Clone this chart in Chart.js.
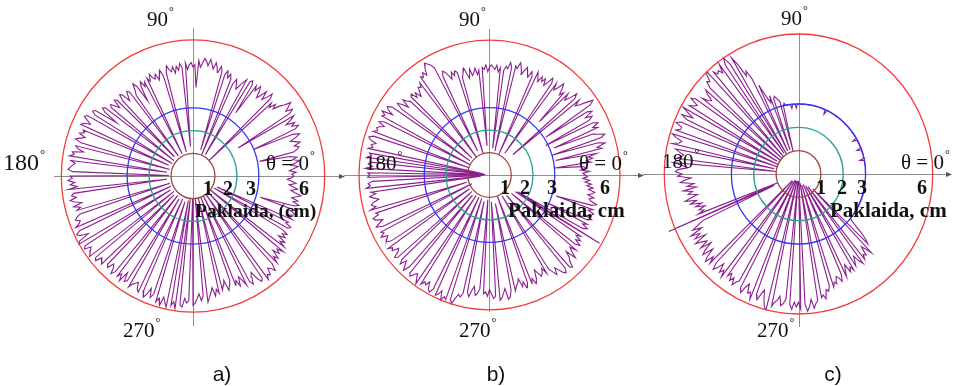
<!DOCTYPE html>
<html>
<head>
<meta charset="utf-8">
<script src="https://cdn.jsdelivr.net/npm/chart.js@4.4.1/dist/chart.umd.min.js"></script>
<style>
  html, body { margin: 0; padding: 0; background: #fff; }
  #wrap { position: relative; width: 955px; height: 386px; overflow: hidden; }
  #wrap canvas { position: absolute; left: 0; top: 0; }
</style>
</head>
<body>
<div id="wrap">
  <canvas id="plotA" width="955" height="386"></canvas>
  <canvas id="plotB" width="955" height="386"></canvas>
  <canvas id="plotC" width="955" height="386"></canvas>
</div>
<script>
// error radius (cm) every degree, counter-clockwise from theta = 0
const angleStep = 1;

const errA = [
  4.6, 4.5, 4.7, 4.4, 4.6, 4.8, 4.5, 4.7, 4.9, 4.6,
  4.8, 4.5, 3.1, 4.7, 4.9, 5.0, 4.8, 5.1, 4.9, 4.7,
  5.0, 5.2, 4.9, 3.0, 5.1, 5.3, 5.0, 5.2, 4.8, 5.1,
  5.3, 2.4, 5.2, 5.4, 5.1, 5.3, 5.5, 5.2, 5.0, 4.7,
  4.9, 4.6, 4.8, 1.0, 4.9, 5.1, 4.8, 4.6, 5.0, 4.7,
  4.5, 4.8, 5.0, 4.7, 4.9, 3.4, 4.8, 5.0, 4.9, 1.1,
  4.9, 4.7, 4.5, 4.3, 4.5, 4.7, 4.4, 1.0, 4.6, 4.8,
  4.6, 4.9, 4.7, 1.2, 4.8, 5.0, 4.7, 4.9, 5.1, 4.8,
  5.0, 5.2, 4.9, 5.1, 5.2, 5.0, 4.8, 5.1, 3.9, 4.9,
  4.8, 5.0, 4.9, 4.7, 5.0, 1.3, 4.8, 5.0, 4.7, 4.9,
  4.6, 4.9, 4.7, 4.8, 5.0, 4.7, 1.1, 4.6, 4.9, 4.7,
  4.5, 4.8, 4.6, 4.7, 4.9, 4.6, 4.8, 1.1, 4.7, 4.5,
  4.8, 4.6, 3.9, 4.7, 4.9, 4.6, 4.4, 1.1, 4.7, 4.8,
  4.6, 4.4, 4.8, 4.9, 4.6, 1.2, 4.8, 4.9, 4.5, 4.7,
  4.9, 4.8, 1.1, 5.0, 5.1, 4.9, 4.2, 5.3, 5.4, 5.2,
  1.1, 5.5, 5.6, 5.4, 5.2, 5.5, 5.6, 1.2, 5.4, 5.3,
  5.5, 5.2, 5.4, 5.6, 5.3, 1.1, 5.5, 5.4, 5.1, 5.6,
  5.5, 5.7, 1.2, 5.6, 5.4, 5.5, 5.6, 5.7, 5.5, 1.1,
  5.6, 5.5, 5.7, 5.4, 5.6, 5.3, 5.7, 1.2, 5.5, 5.6,
  5.4, 5.7, 5.5, 5.2, 5.6, 5.3, 5.5, 1.1, 5.4, 5.6,
  5.7, 5.5, 5.6, 5.8, 1.1, 5.7, 5.9, 5.8, 5.4, 5.9,
  6.0, 1.2, 5.8, 5.9, 5.6, 5.7, 5.8, 5.9, 1.1, 5.7,
  5.8, 5.5, 5.6, 5.7, 1.2, 5.5, 5.6, 5.3, 5.4, 5.7,
  5.5, 1.1, 5.6, 5.4, 5.7, 5.2, 5.6, 5.5, 1.2, 5.7,
  5.5, 5.4, 5.3, 5.6, 5.7, 1.1, 5.5, 5.8, 5.6, 5.3,
  5.7, 5.5, 1.2, 5.8, 5.6, 5.9, 5.5, 5.7, 5.9, 1.1,
  5.8, 5.6, 5.9, 1.0, 5.7, 5.8, 5.4, 5.6, 5.5, 1.0,
  5.7, 5.6, 5.4, 5.2, 5.5, 5.3, 1.0, 5.6, 5.4, 5.2,
  5.0, 5.4, 5.1, 5.3, 1.0, 5.2, 5.0, 4.8, 5.3, 5.1,
  4.9, 1.0, 5.2, 5.0, 5.3, 4.9, 5.1, 5.4, 1.0, 5.3,
  5.5, 5.2, 5.0, 5.4, 5.6, 5.5, 1.0, 5.7, 5.5, 5.6,
  5.3, 5.4, 5.6, 5.3, 1.0, 5.4, 5.1, 5.3, 4.9, 5.2,
  5.0, 5.3, 1.0, 5.2, 4.9, 5.1, 4.7, 5.0, 4.8, 5.0,
  4.7, 1.1, 4.9, 5.0, 4.7, 4.8, 1.2, 4.9, 4.6, 4.8,
  5.0, 4.7, 4.9, 3.2, 4.8, 5.0, 4.7, 4.9, 4.6, 4.8,
  5.0, 4.7, 4.5, 4.8, 4.6, 4.4, 4.7, 4.5, 4.3, 4.5
];

const errB = [
  4.4, 4.3, 4.6, 4.2, 4.5, 4.3, 3.0, 4.7, 4.5, 4.8,
  4.6, 5.0, 3.1, 5.3, 5.1, 5.5, 5.2, 3.0, 5.4, 5.6,
  5.3, 5.1, 3.2, 5.4, 5.2, 5.5, 5.3, 2.9, 5.2, 5.4,
  5.1, 5.5, 5.3, 3.1, 5.6, 5.8, 5.5, 5.2, 5.0, 5.3,
  1.4, 5.2, 5.4, 5.0, 4.8, 5.1, 3.3, 5.0, 4.8, 5.1,
  5.3, 5.0, 4.8, 5.1, 1.2, 5.0, 5.2, 4.9, 4.7, 5.0,
  4.8, 5.0, 4.7, 4.9, 5.1, 1.0, 4.8, 5.0, 4.7, 4.9,
  5.1, 4.9, 4.7, 5.0, 5.2, 4.9, 5.0, 1.1, 4.9, 5.1,
  4.8, 4.9, 4.7, 1.2, 4.8, 4.6, 4.9, 4.7, 4.8, 4.9,
  4.8, 4.6, 4.9, 4.7, 4.8, 1.3, 4.7, 4.5, 4.8, 4.6,
  4.5, 4.8, 4.4, 4.6, 4.9, 4.7, 4.5, 1.0, 4.8, 4.9,
  4.7, 4.9, 4.6, 4.8, 5.0, 5.1, 4.9, 1.2, 5.4, 5.6,
  5.7, 5.8, 5.6, 5.3, 5.5, 5.3, 5.4, 1.0, 5.2, 5.0,
  5.1, 4.9, 4.7, 5.0, 4.8, 5.1, 5.0, 1.1, 4.9, 5.0,
  5.2, 4.8, 5.1, 5.3, 5.0, 1.1, 5.4, 5.6, 5.5, 5.2,
  5.7, 5.5, 5.6, 1.0, 5.4, 5.6, 5.3, 5.5, 5.6, 5.5,
  5.7, 1.0, 5.6, 5.8, 5.7, 5.4, 5.6, 5.5, 5.7, 0.3,
  5.6, 5.5, 5.7, 0.2, 5.5, 5.6, 5.4, 5.7, 0.2, 5.6,
  5.5, 5.6, 0.3, 5.4, 5.6, 5.5, 5.7, 0.4, 5.5, 5.3,
  5.6, 5.4, 5.2, 5.5, 5.6, 5.4, 5.7, 1.1, 5.5, 5.4,
  5.7, 5.6, 5.3, 5.5, 5.7, 5.4, 0.9, 5.6, 5.5, 5.7,
  5.4, 5.5, 5.6, 5.4, 1.1, 5.7, 5.5, 5.6, 5.3, 5.4,
  5.7, 5.6, 1.1, 5.5, 5.7, 5.4, 5.6, 5.8, 5.5, 1.2,
  5.7, 5.8, 5.6, 5.5, 5.7, 5.9, 1.1, 5.8, 5.6, 5.7,
  5.5, 5.8, 5.9, 5.7, 1.1, 5.9, 5.8, 5.6, 6.0, 5.8,
  5.9, 1.1, 5.8, 6.0, 5.7, 5.5, 5.6, 5.4, 1.2, 5.3,
  5.5, 5.2, 5.0, 5.4, 5.3, 5.1, 1.1, 5.3, 5.2, 5.4,
  5.1, 5.3, 5.5, 5.4, 1.2, 5.6, 5.5, 5.3, 5.1, 5.6,
  5.5, 5.2, 1.3, 5.3, 5.1, 5.0, 4.8, 5.2, 5.0, 5.3,
  5.1, 1.0, 5.2, 5.0, 5.3, 5.1, 4.7, 4.9, 5.1, 5.0,
  4.8, 5.1, 1.1, 5.0, 5.2, 5.4, 5.1, 5.3, 5.5, 5.6,
  5.4, 1.2, 5.5, 5.6, 5.3, 5.2, 4.9, 5.4, 5.1, 4.9,
  5.2, 1.3, 5.0, 5.2, 4.9, 5.1, 4.8, 5.0, 1.4, 5.9,
  1.5, 4.9, 5.1, 4.8, 5.0, 3.0, 4.9, 5.1, 4.8, 5.0,
  5.1, 4.8, 5.0, 3.2, 4.9, 5.1, 4.8, 4.7, 4.9, 4.6,
  4.8, 4.9, 4.6, 4.8, 4.5, 4.7, 4.4, 4.6, 4.3, 4.5
];

const errC = [
  3.0, 3.0, 3.0, 3.0, 3.0, 3.0, 3.0, 3.0, 3.0, 3.0,
  3.0, 3.0, 2.8, 3.0, 3.0, 3.0, 3.0, 3.0, 3.0, 3.0,
  3.0, 2.8, 3.0, 3.0, 3.0, 3.0, 3.0, 3.0, 3.0, 3.0,
  2.8, 3.0, 3.0, 3.0, 3.0, 3.0, 3.0, 3.0, 3.0, 3.0,
  3.0, 3.0, 3.0, 3.0, 3.0, 3.0, 3.0, 3.0, 3.0, 3.0,
  3.0, 3.0, 3.0, 3.0, 3.0, 3.0, 3.0, 3.0, 3.0, 3.0,
  3.0, 3.0, 3.0, 3.0, 3.0, 3.0, 2.8, 3.0, 3.0, 3.0,
  3.0, 3.0, 3.0, 3.0, 3.0, 3.0, 3.0, 3.0, 3.0, 3.0,
  3.0, 3.0, 3.0, 3.0, 3.0, 3.0, 3.0, 3.0, 3.0, 3.0,
  3.0, 3.0, 2.82, 3.0, 3.0, 3.0, 2.82, 3.0, 3.0, 3.0,
  3.0, 3.0, 3.1, 3.0, 1.0, 3.2, 3.3, 3.4, 3.5, 3.4,
  1.1, 3.6, 3.3, 3.5, 3.8, 4.2, 1.1, 4.6, 5.0, 4.8,
  5.4, 5.8, 1.0, 5.6, 6.0, 5.7, 1.1, 5.9, 5.5, 5.7,
  5.6, 5.8, 1.0, 6.0, 5.9, 5.6, 5.7, 5.4, 1.0, 5.5,
  5.3, 5.0, 5.1, 5.4, 1.0, 5.6, 5.8, 5.4, 5.5, 5.7,
  1.1, 5.9, 5.6, 5.3, 5.8, 5.5, 1.0, 5.7, 5.9, 5.6,
  5.6, 5.8, 1.0, 5.9, 5.7, 5.4, 5.5, 5.8, 1.1, 5.6,
  5.4, 5.2, 5.3, 5.5, 1.0, 5.6, 5.2, 5.0, 5.4, 5.5,
  5.2, 5.4, 4.8, 5.1, 5.3, 4.7, 5.0, 4.6, 5.2, 4.8,
  5.0, 4.6, 4.9, 5.2, 4.7, 5.0, 4.5, 4.8, 4.4, 4.7,
  4.5, 4.8, 1.0, 6.3, 1.2, 4.7, 5.0, 5.3, 4.9, 5.5,
  5.1, 5.4, 4.9, 5.5, 5.2, 5.0, 5.4, 4.9, 5.3, 5.5,
  5.0, 5.4, 5.6, 5.2, 5.5, 0.4, 5.3, 5.6, 5.4, 5.1,
  5.5, 5.3, 5.6, 0.4, 5.4, 5.2, 5.5, 5.3, 5.6, 5.4,
  5.3, 0.3, 5.5, 5.7, 5.4, 5.2, 5.6, 5.5, 5.8, 0.3,
  5.5, 5.7, 5.4, 5.2, 5.6, 5.9, 6.0, 0.3, 5.8, 5.6,
  5.5, 5.3, 5.7, 5.6, 5.4, 0.3, 5.6, 5.8, 5.5, 5.7,
  5.5, 5.8, 0.3, 5.6, 5.9, 5.7, 5.4, 5.8, 5.6, 5.5,
  0.4, 5.4, 5.3, 5.5, 5.1, 5.2, 5.0, 0.5, 5.1, 4.9,
  5.0, 4.7, 4.8, 5.0, 4.7, 0.5, 4.9, 4.6, 4.4, 4.8,
  4.6, 4.8, 0.6, 4.7, 4.5, 4.3, 4.6, 4.8, 0.7, 4.7,
  4.5, 4.6, 4.2, 4.4, 4.7, 0.9, 4.3, 4.1, 3.8, 3.4,
  3.1, 3.0, 3.0, 3.0, 3.0, 3.0, 3.0, 3.0, 3.0, 3.0,
  3.0, 3.0, 3.0, 3.0, 3.0, 3.0, 3.0, 3.0, 3.0, 3.0,
  3.0, 3.0, 3.0, 3.0, 3.0, 3.0, 3.0, 3.0, 3.0, 3.0,
  3.0, 3.0, 3.0, 3.0, 3.0, 3.0, 3.0, 3.0, 3.0, 3.0
];

// reference rings (cm) and their labels
const ringValues = [1, 2, 3, 6];
const ringLabels = ['1', '2', '3', '6'];
const ringColors = ['#a3453d', '#2e9f96', '#3535f5', '#f53b3b'];
const angleLabels = ['90', '180', '270'];

const serif = '"Liberation Serif", "DejaVu Serif", serif';

function toPoints(err) {
  const pts = err.map((r, i) => {
    const t = i * angleStep * Math.PI / 180;
    return { x: r * Math.cos(t), y: r * Math.sin(t) };
  });
  pts.push(pts[0]); // close the loop
  return pts;
}

function drawDeg(ctx, text, x, y, size) {
  ctx.font = size + 'px ' + serif;
  ctx.fillText(text, x, y);
  const w = ctx.measureText(text).width;
  ctx.font = Math.round(size * 0.55) + 'px ' + serif;
  ctx.fillText('\u00b0', x + w + 1, y - size * 0.52);
}

const polarFrame = {
  id: 'polarFrame',
  beforeDatasetsDraw(chart, args, o) {
    const { ctx, scales: { x, y } } = chart;
    const cx = Math.round(x.getPixelForValue(0)) + 0.5;
    const cy = Math.round(y.getPixelForValue(0)) + 0.5;
    ctx.save();
    ctx.strokeStyle = '#8e8e8e';
    ctx.lineWidth = 1;
    ctx.beginPath();
    ctx.moveTo(o.hAxis[0], cy);
    ctx.lineTo(o.hAxis[1], cy);
    ctx.moveTo(cx, o.vAxis[0]);
    ctx.lineTo(cx, o.vAxis[1]);
    ctx.stroke();
    // arrow head
    ctx.fillStyle = '#555';
    ctx.beginPath();
    ctx.moveTo(o.hAxis[1] + 1, cy);
    ctx.lineTo(o.hAxis[1] - 5, cy - 2.5);
    ctx.lineTo(o.hAxis[1] - 5, cy + 2.5);
    ctx.closePath();
    ctx.fill();
    ctx.restore();
  },
  afterDatasetsDraw(chart, args, o) {
    const { ctx, scales: { x, y } } = chart;
    const cx = x.getPixelForValue(0);
    const cy = y.getPixelForValue(0);
    ctx.save();
    ctx.lineWidth = 1.3;
    ringValues.forEach((v, i) => {
      ctx.strokeStyle = ringColors[i];
      ctx.beginPath();
      ctx.ellipse(cx, cy, x.getPixelForValue(v) - cx, cy - y.getPixelForValue(v), 0, 0, Math.PI * 2);
      ctx.stroke();
    });

    ctx.fillStyle = '#111';
    ctx.textBaseline = 'alphabetic';
    ctx.textAlign = 'left';
    drawDeg(ctx, angleLabels[0], o.top[0], o.top[1], 21);
    drawDeg(ctx, angleLabels[1], o.left[0], o.left[1], o.leftSize || 21);
    drawDeg(ctx, angleLabels[2], o.bottom[0], o.bottom[1], 21);
    drawDeg(ctx, '\u03b8 = 0', o.right[0], o.right[1], 21);

    ctx.font = 'bold 20px ' + serif;
    ctx.textAlign = 'center';
    ringLabels.forEach((t, i) => ctx.fillText(t, o.ticks[i], o.tickY));

    ctx.textAlign = 'left';
    ctx.font = 'bold ' + o.unitSize + 'px ' + serif;
    ctx.fillText(o.unit, o.unitPos[0], o.unitPos[1]);

    ctx.textAlign = 'center';
    ctx.font = '21px "Liberation Sans", Arial, sans-serif';
    ctx.fillText(o.caption, o.capX, 381);
    ctx.restore();
  }
};

function polarChart(id, err, frame, center, k) {
  const W = 955, H = 386;
  new Chart(document.getElementById(id), {
    type: 'scatter',
    data: {
      datasets: [{
        data: toPoints(err),
        showLine: true,
        borderColor: '#8a1f8f',
        borderWidth: 1.1,
        pointRadius: 0,
        tension: 0
      }]
    },
    options: {
      responsive: false,
      animation: false,
      events: [],
      layout: { padding: 0 },
      scales: {
        x: { type: 'linear', display: false, min: -center[0] / k[0], max: (W - center[0]) / k[0] },
        y: { type: 'linear', display: false, min: -(H - center[1]) / k[1], max: center[1] / k[1] }
      },
      plugins: {
        legend: { display: false },
        tooltip: { enabled: false },
        polarFrame: frame
      }
    },
    plugins: [polarFrame]
  });
}

polarChart('plotA', errA, {
  hAxis: [54, 344], vAxis: [28, 326],
  top: [147, 26], left: [3, 170], leftSize: 24, right: [266, 170], bottom: [123, 337],
  ticks: [208, 228, 251, 304], tickY: 195,
  unit: 'Paklaida, (cm)', unitSize: 19.5, unitPos: [195, 217],
  caption: 'a)', capX: 222
}, [193, 176], [21.95, 22.7]);

polarChart('plotB', errB, {
  hAxis: [344, 643], vAxis: [29, 312],
  top: [459, 26], left: [365, 170], right: [579, 170], bottom: [459, 337],
  ticks: [505, 525, 552, 605], tickY: 194,
  unit: 'Paklaida, cm', unitSize: 21, unitPos: [508, 217],
  caption: 'b)', capX: 496
}, [489.5, 175], [21.75, 22.47]);

polarChart('plotC', errC, {
  hAxis: [643, 951], vAxis: [33, 327],
  top: [781, 25], left: [662, 168], right: [901, 169], bottom: [757, 337],
  ticks: [821, 842, 862, 922], tickY: 194,
  unit: 'Paklaida, cm', unitSize: 21, unitPos: [830, 217],
  caption: 'c)', capX: 833
}, [798.5, 174], [22.37, 23.33]);
</script>
</body>
</html>
